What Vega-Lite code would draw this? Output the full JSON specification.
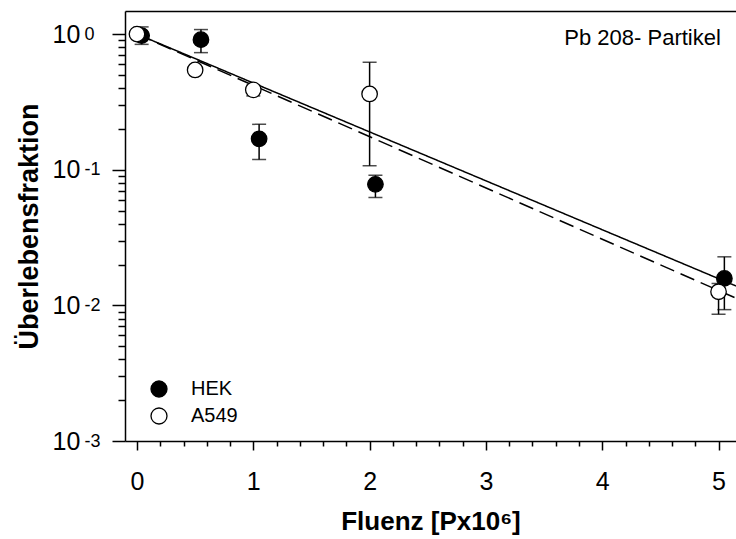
{
  "$schema": "https://vega.github.io/schema/vega-lite/v6.json",
  "width": 611,
  "height": 430,
  "autosize": "none",
  "padding": {"left": 125, "top": 11, "right": 0, "bottom": 98},
  "background": "white",
  "config": {
    "view": {"stroke": null},
    "font": "Liberation Sans",
    "axis": {"domainColor": "black", "tickColor": "black", "labelColor": "black", "titleColor": "black", "domainWidth": 1.5, "tickWidth": 1.5, "grid": false, "labelFont": "Liberation Sans", "titleFont": "Liberation Sans"}
  },
  "datasets": {
    "pts": [
      {"zelle": "HEK", "x": 0.04, "y": 0.975, "lo": 0.84, "hi": 1.13},
      {"zelle": "HEK", "x": 0.55, "y": 0.91, "lo": 0.73, "hi": 1.08},
      {"zelle": "HEK", "x": 1.05, "y": 0.169, "lo": 0.119, "hi": 0.216},
      {"zelle": "HEK", "x": 2.05, "y": 0.078, "lo": 0.0625, "hi": 0.091},
      {"zelle": "HEK", "x": 5.05, "y": 0.0158, "lo": 0.0093, "hi": 0.0228},
      {"zelle": "A549", "x": 0.0, "y": 1.0, "lo": 0.95, "hi": 1.05},
      {"zelle": "A549", "x": 0.5, "y": 0.544, "lo": 0.52, "hi": 0.57},
      {"zelle": "A549", "x": 1.0, "y": 0.388, "lo": 0.35, "hi": 0.42},
      {"zelle": "A549", "x": 2.0, "y": 0.362, "lo": 0.107, "hi": 0.62},
      {"zelle": "A549", "x": 5.0, "y": 0.0126, "lo": 0.0086, "hi": 0.0145}
    ],
    "fit": [
      {"serie": "HEK-Fit", "x": 0.0, "y": 1.0},
      {"serie": "HEK-Fit", "x": 5.15, "y": 0.0139},
      {"serie": "A549-Fit", "x": 0.0, "y": 1.0},
      {"serie": "A549-Fit", "x": 5.15, "y": 0.0113}
    ],
    "note": [
      {"x": 5.02, "y": 0.93, "text": "Pb 208- Partikel"}
    ]
  },
  "resolve": {"axis": {"x": "independent", "y": "independent"}, "legend": {"fill": "independent", "strokeDash": "independent"}},
  "layer": [
    {
      "data": {"name": "pts"},
      "mark": {"type": "rule", "color": "black", "strokeWidth": 1.5},
      "encoding": {
        "x": {"field": "x", "type": "quantitative",
          "scale": {"domain": [-0.103, 5.15], "nice": false, "zero": false},
          "axis": {"orient": "bottom", "values": [0, 1, 2, 3, 4, 5], "tickSize": 9, "labelFontSize": 25, "labelPadding": 19, "title": "Fluenz [Px10⁶]", "titleFontSize": 26, "titleFontWeight": "bold", "titlePadding": 14}},
        "y": {"field": "lo", "type": "quantitative",
          "scale": {"type": "log", "domain": [0.001, 1.48], "nice": false},
          "axis": {"orient": "left", "values": [1, 0.1, 0.01, 0.001], "tickSize": 13, "labelAlign": "left", "labelPadding": 60, "labelFontSize": 25, "labelExpr": "'10'", "title": "Überlebensfraktion", "titleFontSize": 27, "titleFontWeight": "bold", "titlePadding": 9}},
        "y2": {"field": "hi"}
      }
    },
    {
      "data": {"name": "pts"},
      "mark": {"type": "tick", "orient": "horizontal", "color": "black", "size": 14, "thickness": 1.5},
      "encoding": {
        "x": {"field": "x", "type": "quantitative", "axis": null},
        "y": {"field": "lo", "type": "quantitative", "axis": null}
      }
    },
    {
      "data": {"name": "pts"},
      "mark": {"type": "tick", "orient": "horizontal", "color": "black", "size": 14, "thickness": 1.5},
      "encoding": {
        "x": {"field": "x", "type": "quantitative", "axis": null},
        "y": {"field": "hi", "type": "quantitative", "axis": null}
      }
    },
    {
      "data": {"name": "fit"},
      "mark": {"type": "line", "color": "black", "strokeWidth": 1.5, "clip": true},
      "encoding": {
        "x": {"field": "x", "type": "quantitative", "axis": null},
        "y": {"field": "y", "type": "quantitative", "axis": null},
        "detail": {"field": "serie"},
        "strokeDash": {"field": "serie", "type": "nominal", "scale": {"domain": ["HEK-Fit", "A549-Fit"], "range": [[1, 0], [15, 7]]}, "legend": null}
      }
    },
    {
      "data": {"name": "pts"},
      "mark": {"type": "point", "shape": "circle", "filled": true, "size": 240, "stroke": "black", "strokeWidth": 1.3, "opacity": 1},
      "encoding": {
        "x": {"field": "x", "type": "quantitative", "axis": null},
        "y": {"field": "y", "type": "quantitative", "axis": null},
        "fill": {"field": "zelle", "type": "nominal", "scale": {"domain": ["HEK", "A549"], "range": ["black", "white"]},
          "legend": {"title": null, "orient": "none", "legendX": 24, "legendY": 368, "symbolType": "circle", "symbolSize": 256, "symbolStrokeColor": "black", "symbolStrokeWidth": 1.3, "symbolOpacity": 1, "labelFontSize": 20, "labelFont": "Liberation Sans", "labelColor": "black", "labelOffset": 22, "rowPadding": 5, "padding": 0}}
      }
    },
    {
      "data": {"name": "pts"},
      "mark": {"type": "point", "opacity": 0},
      "encoding": {
        "x": {"field": "x", "type": "quantitative",
          "axis": {"orient": "bottom", "values": [0.2, 0.4, 0.6, 0.8, 1.2, 1.4, 1.6, 1.8, 2.2, 2.4, 2.6, 2.8, 3.2, 3.4, 3.6, 3.8, 4.2, 4.4, 4.6, 4.8, 5.2], "tickSize": 5, "labels": false, "title": null, "domain": false}},
        "y": {"field": "y", "type": "quantitative",
          "axis": {"orient": "left", "values": [0.9, 0.8, 0.7, 0.6, 0.5, 0.4, 0.3, 0.2, 0.09, 0.08, 0.07, 0.06, 0.05, 0.04, 0.03, 0.02, 0.009, 0.008, 0.007, 0.006, 0.005, 0.004, 0.003, 0.002], "tickSize": 7, "labels": false, "title": null, "domain": false}}
      }
    },
    {
      "data": {"name": "pts"},
      "mark": {"type": "point", "opacity": 0},
      "encoding": {
        "x": {"field": "x", "type": "quantitative",
          "axis": {"orient": "top", "ticks": false, "labels": false, "title": null, "domain": true}},
        "y": {"field": "y", "type": "quantitative",
          "axis": {"orient": "left", "values": [1, 0.1, 0.01, 0.001], "ticks": false, "tickSize": 0, "domain": false, "labelAlign": "left", "labelPadding": 41, "labelFontSize": 18, "labelDy": -9, "labelExpr": "datum.value >= 0.5 ? '0' : datum.value >= 0.05 ? '-1' : datum.value >= 0.005 ? '-2' : '-3'", "title": null}}
      }
    },
    {
      "data": {"name": "note"},
      "mark": {"type": "text", "align": "right", "baseline": "middle", "fontSize": 22, "font": "Liberation Sans", "color": "black"},
      "encoding": {
        "x": {"field": "x", "type": "quantitative", "axis": null},
        "y": {"field": "y", "type": "quantitative", "axis": null},
        "text": {"field": "text"}
      }
    }
  ]
}
